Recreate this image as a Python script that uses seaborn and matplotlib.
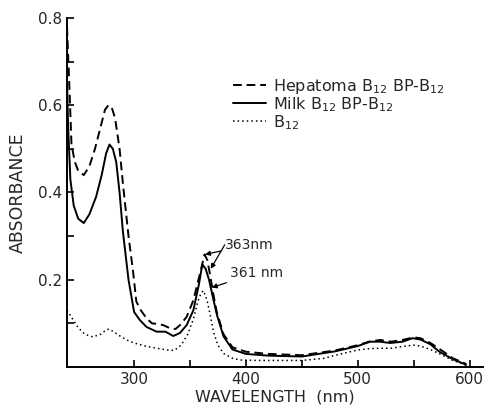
import matplotlib
matplotlib.use("Agg")
import matplotlib.pyplot as plt
import seaborn as sns
import pandas as pd

# Hepatoma B12 BP-B12 (dashed)
hep_x = [240, 242, 244, 247, 250, 255, 260, 265, 270, 274, 277, 280, 283, 287, 290, 295, 299, 302,
         306, 311, 316, 320, 326, 332, 337, 341, 347, 353, 359, 363, 365.5, 368, 371, 374, 380, 388,
         400, 420, 450, 480, 500, 510, 520, 530, 540, 550, 556, 565, 575, 585, 597]
hep_y = [0.78, 0.65, 0.51, 0.47, 0.45, 0.44, 0.46, 0.50, 0.55, 0.59, 0.60, 0.595, 0.57, 0.50, 0.42,
         0.30, 0.22, 0.15, 0.13, 0.112, 0.10, 0.099, 0.096, 0.089, 0.087, 0.096, 0.115, 0.153, 0.215,
         0.258, 0.245, 0.21, 0.165, 0.125, 0.075, 0.045, 0.035, 0.03, 0.027, 0.038, 0.05, 0.058,
         0.062, 0.058, 0.062, 0.068, 0.066, 0.055, 0.038, 0.02, 0.007]

# Milk B12 BP-B12 (solid)
milk_x = [240, 241, 243, 246, 250, 255, 260, 266, 271, 275, 278, 281, 284, 287, 290, 295, 300, 305,
          311, 320, 328, 335, 341, 347, 353, 358, 361, 364, 367, 370, 374, 380, 388, 400, 420, 450,
          480, 500, 511, 520, 529, 540, 549, 556, 565, 573, 585, 597]
milk_y = [0.66, 0.55, 0.43, 0.37, 0.34, 0.33, 0.35, 0.39, 0.44, 0.49, 0.51, 0.50, 0.47, 0.40, 0.31,
          0.20, 0.126, 0.108, 0.092, 0.081, 0.081, 0.071, 0.078, 0.096, 0.13, 0.19, 0.235, 0.225,
          0.2, 0.165, 0.12, 0.07, 0.04, 0.03, 0.026, 0.024, 0.036, 0.048, 0.058, 0.058, 0.055,
          0.058, 0.066, 0.063, 0.052, 0.035, 0.018, 0.005]

# B12 (dotted)
b12_x = [240, 245, 250, 256, 263, 270, 275, 278, 282, 288, 295, 300, 310, 320, 330, 336, 342, 348,
         353, 357, 360, 362, 365, 368, 371, 375, 380, 388, 395, 410, 430, 450, 470, 480, 500, 510,
         520, 530, 540, 550, 556, 565, 575, 585, 597]
b12_y = [0.13, 0.11, 0.09, 0.075, 0.069, 0.075, 0.085, 0.087, 0.08, 0.07, 0.06, 0.055, 0.048, 0.043,
         0.039, 0.038, 0.05, 0.075, 0.11, 0.15, 0.17, 0.175, 0.155, 0.12, 0.08, 0.05, 0.031, 0.02,
         0.016, 0.015, 0.015, 0.015, 0.02, 0.027, 0.039, 0.042, 0.043, 0.043, 0.047, 0.05, 0.048,
         0.04, 0.028, 0.015, 0.004]

labels = ["Hepatoma B$_{12}$ BP-B$_{12}$", "Milk B$_{12}$ BP-B$_{12}$", "B$_{12}$"]

sns.set_style("ticks")
plt.rcParams['font.family'] = ['DejaVu Sans']

fig = plt.figure(figsize=(4.87, 4.09), dpi=100)
ax = fig.add_axes([0.1376, 0.1027, 0.8542, 0.8533])

sns.lineplot(x=hep_x, y=hep_y, ax=ax, color='black', lw=1.4, linestyle=(0, (4.5, 2.5)),
             label=labels[0], sort=False, estimator=None)
sns.lineplot(x=milk_x, y=milk_y, ax=ax, color='black', lw=1.4, linestyle='-',
             label=labels[1], sort=False, estimator=None)
sns.lineplot(x=b12_x, y=b12_y, ax=ax, color='black', lw=1.1, linestyle=(0, (1, 2)),
             label=labels[2], sort=False, estimator=None)

ax.set_xlim(240, 612)
ax.set_ylim(0, 0.8)
ax.set_xticks([300, 400, 500, 600])
ax.set_xticks([350, 450, 550], minor=True)
ax.set_yticks([0.2, 0.4, 0.6, 0.8])
ax.set_yticks([0.1, 0.3, 0.5, 0.7], minor=True)
ax.set_yticklabels(['0.2', '0.4', '0.6', '0.8'])
ax.tick_params(which='both', direction='in', length=5, width=1.2, labelsize=11, color='black')
for s in ['top', 'right']:
    ax.spines[s].set_visible(False)
for s in ['left', 'bottom']:
    ax.spines[s].set_linewidth(1.4)
    ax.spines[s].set_color('black')

ax.set_xlabel('WAVELENGTH  (nm)', fontsize=11.5, labelpad=2)
ax.set_ylabel('ABSORBANCE', fontsize=12.5, labelpad=8)

# peak annotations
arr = dict(arrowstyle='-|>', color='black', lw=0.9, mutation_scale=7, shrinkA=0, shrinkB=0)
ax.annotate('363nm', xy=(363.5, 0.258), xytext=(381, 0.28), fontsize=10, va='center',
            arrowprops=arr)
ax.annotate('', xy=(368.5, 0.225), xytext=(381, 0.28), arrowprops=arr)
ax.annotate('361 nm', xy=(369.5, 0.182), xytext=(385.5, 0.216), fontsize=10, va='center',
            arrowprops=arr)

ax.legend(loc='upper left', bbox_to_anchor=(0.383, 0.85), frameon=False, fontsize=11.5,
          handlelength=2.1, handletextpad=0.4, labelspacing=-0.05, borderaxespad=0)

fig.savefig('out.png', dpi=100)
